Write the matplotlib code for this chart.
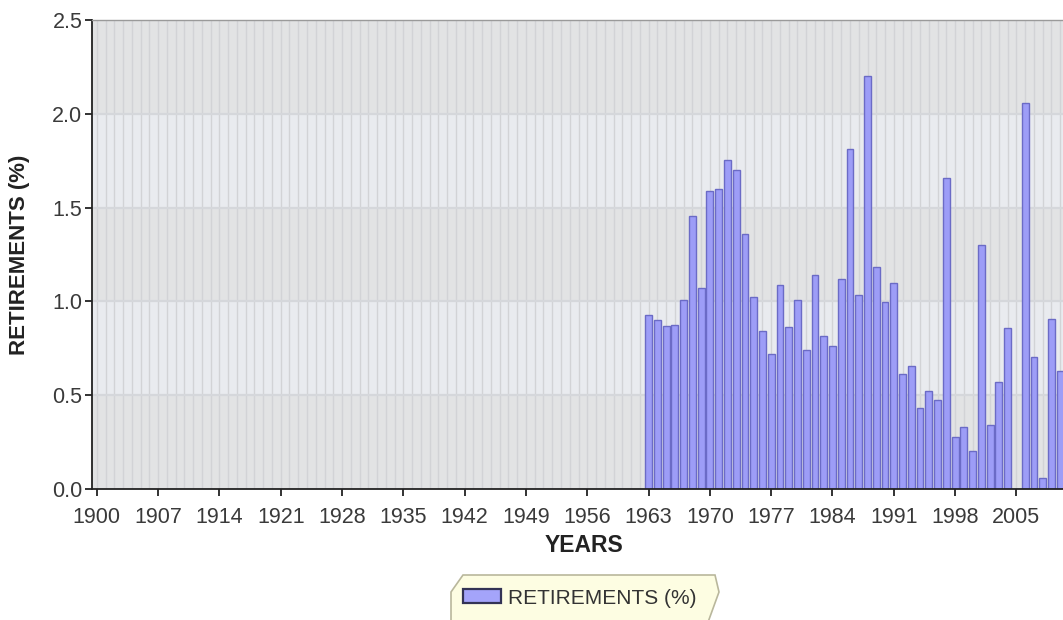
import numpy as np
import matplotlib.pyplot as plt
from matplotlib.patches import Polygon, Rectangle

years = np.arange(1963, 2011)
retirements = [0.93, 0.90, 0.87, 0.875, 1.01, 1.455, 1.07, 1.59, 1.60, 1.755,
               1.70, 1.36, 1.025, 0.84, 0.72, 1.09, 0.865, 1.005, 0.74, 1.14,
               0.815, 0.76, 1.12, 1.815, 1.035, 2.20, 1.185, 0.995, 1.10, 0.615,
               0.655, 0.43, 0.52, 0.475, 1.66, 0.275, 0.33, 0.205, 1.30, 0.34,
               0.57, 0.86, 0.0, 2.06, 0.705, 0.06, 0.905, 0.63]
xticks = np.arange(1900, 2006, 7)
yticks = [0.0, 0.5, 1.0, 1.5, 2.0, 2.5]

plt.rcParams['font.family'] = ['Liberation Sans', 'DejaVu Sans']

fig = plt.figure(figsize=(10.63, 6.2), dpi=100)
# axes run past the right edge of the figure, like the cropped original
ax = fig.add_axes([92 / 1063, 131 / 620, 1012 / 1063, 469 / 620])
ax.set_xlim(1899.45, 2015)
ax.set_ylim(0, 2.5)

# background: faint bands, yearly stripes and horizontal grid
ax.set_facecolor('#e9ebef')
for lo in np.arange(0, 2.5, 1.0):
    ax.axhspan(lo, lo + 0.5, color='#e2e3e4', zorder=0, lw=0)
for yr in np.arange(1900, 2016):
    ax.axvline(yr, color='#d2d3d6', lw=1.0, zorder=0.5)
for y in yticks[1:-1]:
    ax.axhline(y, color='#d5d7db', lw=1.6, zorder=0.6)

ax.bar(years, retirements, width=0.78, color='#9d9df7', edgecolor='#6b6bc6',
       linewidth=1.0, zorder=2)

ax.set_xticks(xticks)
ax.set_yticks(yticks)
ax.set_yticklabels(['%.1f' % v for v in yticks])
ax.tick_params(axis='both', direction='out', length=5, width=1.3,
               color='#222222', labelcolor='#3a3a3a', labelsize=15.5)
ax.tick_params(axis='x', pad=8)
ax.tick_params(axis='y', pad=2)

for side in ['left', 'bottom']:
    ax.spines[side].set_color('#222222')
    ax.spines[side].set_linewidth(1.3)
ax.spines['top'].set_color('#9a9a9a')
ax.spines['top'].set_linewidth(1.0)
ax.spines['right'].set_visible(False)

ax.set_xlabel('YEARS', fontsize=16.5, fontweight='bold', color='#222222')
ax.xaxis.set_label_coords((584 - 92) / 1012, -(545 - 489) / 469)
ax.xaxis.label.set_verticalalignment('center')
ax.set_ylabel('RETIREMENTS (%)', fontsize=16, fontweight='bold', color='#222222')
ax.yaxis.set_label_coords(-(92 - 20) / 1012, 0.5)
ax.yaxis.label.set_verticalalignment('center')

# legend box with bevelled corners, partly cut off at the bottom
W, H = 1063.0, 620.0
pts = [(463, 575), (715, 575), (719, 592), (707, 625), (451, 625), (451, 592)]
fig.patches.append(Polygon([(x / W, 1 - y / H) for x, y in pts], closed=True,
                           transform=fig.transFigure, facecolor='#fdfde2',
                           edgecolor='#b9b79c', lw=1.2))
fig.patches.append(Rectangle((463 / W, 1 - 603 / H), 38 / W, 14 / H,
                             transform=fig.transFigure, facecolor='#a4a4fa',
                             edgecolor='#333355', lw=1.6))
fig.text(508 / W, 1 - 598 / H, 'RETIREMENTS (%)', fontsize=15, color='#333333',
         va='center', ha='left')

fig.savefig('out.png', dpi=100)
